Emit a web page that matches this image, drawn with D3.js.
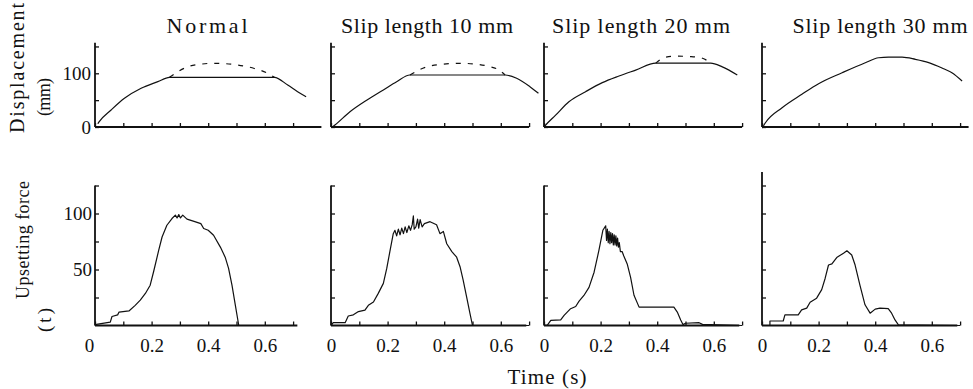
<!DOCTYPE html>
<html>
<head>
<meta charset="utf-8">
<script src="https://cdn.jsdelivr.net/npm/d3@7"></script>
<style>
  body { margin: 0; background: #fff; }
  svg { display: block; }
</style>
</head>
<body>
<div id="chart"></div>
<script>
// Upsetting test: displacement (top row) and upsetting force (bottom row) vs time

const titles = ["Normal", "Slip length 10 mm", "Slip length 20 mm", "Slip length 30 mm"];
const xTickValues = [0, 0.1, 0.2, 0.3, 0.4, 0.5, 0.6, 0.7];
const xTickLabels = [0, 0.2, 0.4, 0.6];
const dispTicks = [0, 50, 100, 150];
const dispTickLabels = [0, 100];
const forceTicks = [25, 50, 75, 100, 125];
const forceTickLabels = [50, 100];

// displacement actually recorded (solid), [time s, mm]
const dispNormal = [[0.01, 6], [0.015, 10], [0.057, 31.7], [0.104, 53.4], [0.163, 72], [0.222, 84.4], [0.263, 92.5], [0.634, 92.5], [0.681, 78], [0.716, 65.8], [0.746, 56.4]];
const dispSlip10 = [[0.005, 0], [0.014, 3.7], [0.067, 28.5], [0.126, 50], [0.185, 69], [0.232, 84.4], [0.279, 96.8], [0.615, 96.8], [0.656, 90.7], [0.703, 75], [0.733, 62.7]];
const dispSlip20 = [[0, 0], [0.006, 3.7], [0.041, 22], [0.088, 47], [0.147, 65.8], [0.206, 82.6], [0.265, 95], [0.324, 106], [0.395, 119], [0.589, 119], [0.63, 112], [0.683, 96.8]];
const dispSlip30 = [[0.005, 2], [0.012, 8], [0.071, 36], [0.141, 61], [0.2, 80.7], [0.283, 101], [0.365, 119.7], [0.412, 129], [0.447, 130], [0.495, 130], [0.542, 126], [0.589, 120], [0.636, 110], [0.671, 101], [0.707, 85.7]];

// displacement without the stop (dashed)
const planNormal = [[0.263, 92.5], [0.27, 95], [0.327, 112], [0.374, 117], [0.416, 118.6], [0.457, 118], [0.504, 115.5], [0.563, 109], [0.61, 100], [0.634, 92.5]];
const planSlip10 = [[0.279, 96.8], [0.314, 107], [0.35, 113.6], [0.397, 117], [0.456, 118.6], [0.515, 117], [0.556, 113], [0.591, 107], [0.615, 96.8]];
const planSlip20 = [[0.395, 119], [0.424, 129], [0.466, 132], [0.52, 131], [0.56, 128], [0.589, 119]];
const planSlip30 = [];

// upsetting force, [time s, t]
const forceNormal = [[0, 0], [0.005, 1], [0.054, 3], [0.06, 8], [0.08, 9.5], [0.085, 12], [0.12, 13], [0.142, 18], [0.16, 22.6], [0.178, 28.6], [0.195, 36], [0.207, 48], [0.225, 67], [0.237, 79], [0.254, 89.5], [0.272, 95.5], [0.284, 98.5], [0.29, 96], [0.296, 99], [0.302, 96], [0.31, 98.5], [0.325, 95], [0.35, 93], [0.374, 91], [0.384, 86.6], [0.4, 85], [0.419, 80.6], [0.443, 70], [0.46, 61], [0.472, 51], [0.484, 36], [0.496, 18], [0.508, 0], [0.7, 0]];
const forceSlip10 = [[0, 0], [0.008, 2.5], [0.05, 2.5], [0.061, 8.5], [0.079, 9.5], [0.097, 12.4], [0.12, 13.7], [0.132, 18], [0.15, 21], [0.167, 28.7], [0.185, 37.6], [0.197, 51], [0.208, 66], [0.22, 82], [0.226, 85], [0.232, 80], [0.238, 86], [0.244, 81], [0.25, 87], [0.256, 82], [0.262, 88], [0.268, 83], [0.275, 89], [0.281, 85], [0.287, 90], [0.291, 97.8], [0.294, 86], [0.3, 88], [0.306, 95], [0.31, 87], [0.315, 94.5], [0.322, 88], [0.33, 91], [0.35, 92.7], [0.373, 90], [0.385, 82], [0.397, 84], [0.409, 73], [0.427, 66], [0.444, 61], [0.456, 52.5], [0.467, 40.6], [0.479, 25.7], [0.491, 10.9], [0.5, 0], [0.7, 0]];
const forceSlip20 = [[0, 0], [0.012, 0.3], [0.024, 4.5], [0.059, 5], [0.071, 9], [0.094, 15], [0.112, 17], [0.124, 21.7], [0.141, 26.8], [0.159, 34], [0.177, 47.6], [0.194, 67], [0.208, 85], [0.218, 89], [0.221, 76], [0.224, 86], [0.227, 74], [0.23, 84], [0.233, 73], [0.236, 83], [0.239, 74], [0.242, 82], [0.245, 72], [0.248, 81], [0.251, 72], [0.254, 80], [0.257, 71], [0.26, 78], [0.263, 70], [0.266, 74], [0.27, 66], [0.276, 66], [0.282, 62], [0.294, 55], [0.306, 43], [0.318, 27], [0.336, 16.4], [0.459, 16.4], [0.471, 12], [0.483, 5], [0.491, 0.8], [0.5, 2], [0.548, 2.5], [0.56, 1], [0.7, 0]];
const forceSlip30 = [[0, 0], [0.028, 0], [0.028, 4], [0.075, 4], [0.081, 9.5], [0.128, 9.5], [0.14, 14], [0.158, 15.5], [0.17, 20.8], [0.193, 24.4], [0.211, 32], [0.223, 42], [0.235, 54], [0.247, 55], [0.264, 60.7], [0.288, 64.6], [0.3, 66.7], [0.317, 63], [0.329, 54], [0.346, 36], [0.364, 18.5], [0.382, 11], [0.4, 14.6], [0.417, 15.5], [0.446, 15], [0.458, 11], [0.47, 5], [0.482, 0.5], [0.7, 0]];

const dispSeries = [dispNormal, dispSlip10, dispSlip20, dispSlip30];
const planSeries = [planNormal, planSlip10, planSlip20, planSlip30];
const forceSeries = [forceNormal, forceSlip10, forceSlip20, forceSlip30];

// layout
const width = 973, height = 389;
const panelLeft = [95, 331, 544, 762];
const pxPerSecond = 283;
const titleX = [207, 427, 641, 880];
const titleLen = [81, 172, 178, 175];
const topAxisEnd = [0.8, 0.7, 0.7, 0.73];
const botAxisEnd = [0.715, 0.69, 0.69, 0.69];
const forceAxisTop = [125, 125, 125, 137];
const dispAxisTop = 157;
const serif = '"Liberation Serif", "Times New Roman", Times, "DejaVu Serif", serif';

const yDisp = d3.scaleLinear().domain([0, 100]).range([127, 73.3]);
const yForce = d3.scaleLinear().domain([0, 100]).range([325.5, 213.5]);

const svg = d3.select("#chart").append("svg")
  .attr("width", width)
  .attr("height", height)
  .attr("font-family", serif);

const ink = "#111";

function styleAxis(g) {
  g.attr("font-family", serif).attr("font-size", 19);
  g.select(".domain").remove();
  g.selectAll(".tick line").attr("stroke", ink).attr("stroke-width", 1.3);
  g.selectAll(".tick text").attr("fill", ink);
}

titles.forEach((title, i) => {
  const x = d3.scaleLinear().domain([0, 0.7]).range([panelLeft[i], panelLeft[i] + 0.7 * pxPerSecond]);

  svg.append("text")
    .attr("x", titleX[i])
    .attr("y", 33)
    .attr("text-anchor", "middle")
    .attr("font-size", 22)
    .attr("fill", ink)
    .attr("textLength", titleLen[i])
    .attr("lengthAdjust", "spacing")
    .text(title);

  // ---- displacement panel
  const gTop = svg.append("g");

  gTop.append("g")
    .attr("transform", `translate(0,${yDisp(0)})`)
    .call(d3.axisBottom(x).tickValues(xTickValues).tickSize(-4).tickFormat(""))
    .call(styleAxis);

  gTop.append("g")
    .attr("transform", `translate(${x(0)},0)`)
    .call(d3.axisLeft(yDisp).tickValues(dispTicks).tickSize(-4).tickPadding(4)
      .tickFormat(d => (i === 0 && dispTickLabels.includes(d)) ? d : ""))
    .call(styleAxis);

  gTop.append("line")
    .attr("x1", x(0)).attr("x2", x(topAxisEnd[i]))
    .attr("y1", yDisp(0)).attr("y2", yDisp(0))
    .attr("stroke", ink).attr("stroke-width", 1.8);
  gTop.append("line")
    .attr("x1", x(0)).attr("x2", x(0))
    .attr("y1", yDisp(0)).attr("y2", yDisp(dispAxisTop))
    .attr("stroke", ink).attr("stroke-width", 1.8);

  const dispLine = d3.line().x(d => x(d[0])).y(d => yDisp(d[1])).curve(d3.curveMonotoneX);

  gTop.append("path")
    .datum(dispSeries[i])
    .attr("fill", "none")
    .attr("stroke", ink)
    .attr("stroke-width", 1.2)
    .attr("d", dispLine);

  if (planSeries[i].length) {
    gTop.append("path")
      .datum(planSeries[i])
      .attr("fill", "none")
      .attr("stroke", ink)
      .attr("stroke-width", 1.2)
      .attr("stroke-dasharray", "5 7")
      .attr("d", dispLine);
  }

  // ---- force panel
  const gBot = svg.append("g");

  const xAxisBot = gBot.append("g")
    .attr("transform", `translate(0,${yForce(0)})`)
    .call(d3.axisBottom(x).tickValues(xTickValues).tickSize(-4).tickPadding(13)
      .tickFormat(d => xTickLabels.some(v => Math.abs(v - d) < 1e-9) ? d3.format("")(+d.toFixed(1)) : ""))
    .call(styleAxis);
  // the first panel prints its zero a little left of the origin
  if (i === 0) xAxisBot.selectAll(".tick text").filter(d => d === 0).attr("dx", -6);

  gBot.append("g")
    .attr("transform", `translate(${x(0)},0)`)
    .call(d3.axisLeft(yForce).tickValues(forceTicks.filter(v => v <= forceAxisTop[i])).tickSize(-4).tickPadding(3)
      .tickFormat(d => (i === 0 && forceTickLabels.includes(d)) ? d : ""))
    .call(styleAxis);

  gBot.append("line")
    .attr("x1", x(0)).attr("x2", x(botAxisEnd[i]))
    .attr("y1", yForce(0)).attr("y2", yForce(0))
    .attr("stroke", ink).attr("stroke-width", 1.8);
  gBot.append("line")
    .attr("x1", x(0)).attr("x2", x(0))
    .attr("y1", yForce(0)).attr("y2", yForce(forceAxisTop[i]))
    .attr("stroke", ink).attr("stroke-width", 1.8);

  const forceLine = d3.line().x(d => x(d[0])).y(d => yForce(d[1]));

  gBot.append("path")
    .datum(forceSeries[i])
    .attr("fill", "none")
    .attr("stroke", ink)
    .attr("stroke-width", 1.2)
    .attr("stroke-linejoin", "round")
    .attr("d", forceLine);
});

// axis titles
function vLabel(txt, cx, cy, len, size) {
  svg.append("text")
    .attr("transform", `translate(${cx},${cy}) rotate(-90)`)
    .attr("text-anchor", "middle")
    .attr("font-size", size)
    .attr("fill", ink)
    .attr("textLength", len)
    .attr("lengthAdjust", "spacing")
    .text(txt);
}
vLabel("Displacement", 24, 68, 130, 20);
vLabel("(mm)", 50, 97, 38, 18);
vLabel("Upsetting force", 29, 240, 118, 18);
vLabel("(t)", 51, 320, 24, 19);

svg.append("text")
  .attr("x", 547)
  .attr("y", 384)
  .attr("text-anchor", "middle")
  .attr("font-size", 21)
  .attr("fill", ink)
  .attr("textLength", 79)
  .attr("lengthAdjust", "spacing")
  .text("Time (s)");
</script>
</body>
</html>
